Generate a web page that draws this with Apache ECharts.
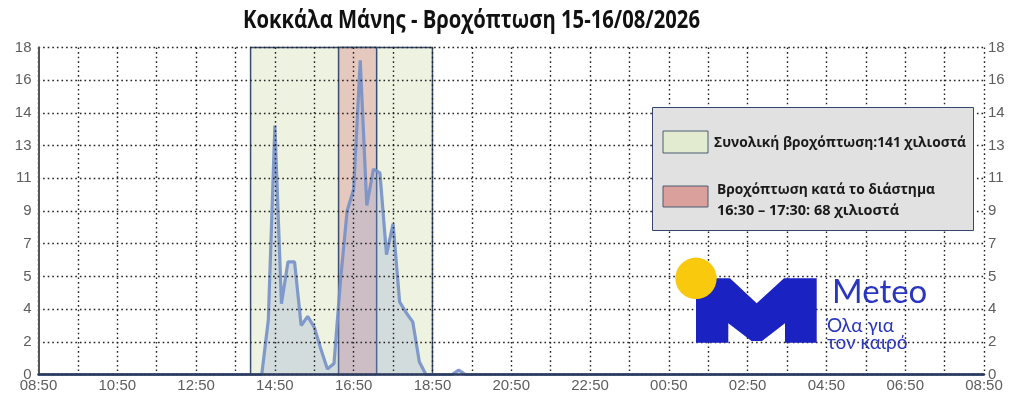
<!DOCTYPE html>
<html>
<head>
<meta charset="utf-8">
<script src="https://cdn.jsdelivr.net/npm/echarts@6/dist/echarts.min.js"></script>
<style>
  html, body { margin: 0; padding: 0; background: #fff; }
  #chart { width: 1024px; height: 409px; }
</style>
</head>
<body>
<div id="chart"></div>
<script>
// ώρες μετρήσεων (10λεπτα) και βροχή σε χιλιοστά
var times = ['08:50', '14:30', '14:40', '14:50', '15:00', '15:10', '15:20', '15:30', '15:40', '15:50',
             '16:00', '16:10', '16:20', '16:30', '16:40', '16:50', '17:00', '17:10', '17:20', '17:30',
             '17:40', '17:50', '18:00', '18:10', '18:20', '18:30', '18:40', '19:20', '19:30', '19:40', '08:50'];
var rain = [0, 0, 3.0, 13.7, 3.9, 6.2, 6.2, 2.7, 3.2, 2.6,
            1.4, 0.3, 0.6, 5.2, 9.0, 10.2, 17.3, 9.3, 11.3, 11.1,
            6.6, 8.3, 4.0, 3.4, 2.9, 0.7, 0, 0, 0.25, 0, 0];

// πλαίσια: συνολική βροχή και διάστημα 16:30-17:30
var totalSpan = ['14:13', '18:50'];
var peakSpan = ['16:27', '17:25'];

var startTime = '08:50';
var yMax = 18;
var yStep = 1.8;

var titleText = 'Κοκκάλα Μάνης - Βροχόπτωση 15-16/08/2026';
var legendTexts = ['Συνολική βροχόπτωση:141 χιλιοστά', 'Βροχόπτωση κατά το διάστημα', '16:30 – 17:30: 68 χιλιοστά'];

function toMin(t) {
  var p = t.split(':');
  return (+p[0]) * 60 + (+p[1]);
}
var start = toMin(startTime);

// λεπτά από την αρχή (με αλλαγή ημέρας)
function offsets(list) {
  var out = [], prev = -1;
  for (var i = 0; i < list.length; i++) {
    var m = toMin(list[i]) - start;
    if (m < 0) m += 1440;
    if (m < prev) m += 1440;
    out.push(m);
    prev = m;
  }
  return out;
}

var xs = offsets(times);
var seriesData = [];
for (var i = 0; i < xs.length; i++) {
  seriesData.push([xs[i], rain[i]]);
}
var total = offsets(totalSpan);
var peak = offsets(peakSpan);

function pad(n) { return n < 10 ? '0' + n : '' + n; }

// πλάτος κειμένου για να ταιριάξει
var ctx = document.createElement('canvas').getContext('2d');
function fitScale(text, font, width) {
  ctx.font = font;
  return width / ctx.measureText(text).width;
}

var titleFont = 'bold 25px "Open Sans"';
var legFont = 'bold 15px "Open Sans"';

var myChart = echarts.init(document.getElementById('chart'));

var gridDots = { color: '#222', width: 1.4, type: [1.6, 3] };
var labelFont = { color: '#5e5e5e', fontSize: 15, fontFamily: '"Liberation Sans", Arial, sans-serif' };

var option = {
  animation: false,
  grid: { left: 38.5, right: 40, top: 47.5, bottom: 34.5 },
  xAxis: {
    type: 'value',
    min: 0,
    max: 1440,
    interval: 60,
    z: 5,
    axisLine: { lineStyle: { color: '#2c3b5e', width: 2.5 } },
    axisTick: { show: false },
    axisLabel: {
      color: labelFont.color,
      fontSize: labelFont.fontSize,
      fontFamily: labelFont.fontFamily,
      margin: 4,
      showMinLabel: true,
      showMaxLabel: true,
      formatter: function (v) {
        if (v % 120 !== 0) return '';
        var m = (start + v) % 1440;
        return pad(Math.floor(m / 60)) + ':' + pad(m % 60);
      }
    },
    splitLine: { lineStyle: gridDots }
  },
  yAxis: [
    {
      type: 'value',
      min: 0,
      max: yMax,
      interval: yStep,
      z: 5,
      axisLine: { show: true, lineStyle: { color: '#555', width: 2 } },
      axisTick: { show: false },
      axisLabel: {
        color: labelFont.color, fontSize: labelFont.fontSize, fontFamily: labelFont.fontFamily, margin: 7,
        padding: [0, 0, 8, 0],
        formatter: function (v) { return Math.round(v); }
      },
      splitLine: { lineStyle: gridDots }
    },
    {
      type: 'value',
      position: 'right',
      min: 0,
      max: yMax,
      interval: yStep,
      axisLine: { show: false },
      axisTick: { show: false },
      axisLabel: {
        color: labelFont.color, fontSize: labelFont.fontSize, fontFamily: labelFont.fontFamily, margin: 4,
        padding: [0, 0, 8, 0],
        formatter: function (v) { return Math.round(v); }
      },
      splitLine: { show: false }
    }
  ],
  series: [
    {
      type: 'line',
      data: [[0, 0]],
      symbol: 'none',
      lineStyle: { opacity: 0 },
      z: 1,
      silent: true,
      markArea: {
        silent: true,
        label: { show: false },
        data: [
          [{ xAxis: total[0], itemStyle: { color: '#eef3e1', borderColor: '#3a4c72', borderWidth: 1.5 } }, { xAxis: total[1] }],
          [{ xAxis: peak[0], itemStyle: { color: '#e5c8be', borderColor: '#3a4c72', borderWidth: 1.5 } }, { xAxis: peak[1] }]
        ]
      }
    },
    {
      type: 'line',
      data: seriesData,
      symbol: 'none',
      z: 3,
      lineStyle: { color: '#7690c8', width: 3.2, opacity: 0.9 },
      areaStyle: { color: 'rgba(145,168,210,0.42)' }
    }
  ],
  graphic: [
    {
      type: 'text', x: 471.5, y: 21, z: 20,
      scaleX: fitScale(titleText, titleFont, 457),
      style: { text: titleText, font: titleFont, fill: '#111', align: 'center', verticalAlign: 'middle' }
    },
    // υπόμνημα
    { type: 'rect', z: 20, shape: { x: 652.5, y: 107.5, width: 321, height: 123 },
      style: { fill: '#e1e1e1', stroke: '#34466b', lineWidth: 1 } },
    { type: 'rect', z: 21, shape: { x: 663, y: 131, width: 45, height: 22 },
      style: { fill: '#e2ebcf', stroke: '#4a5c72', lineWidth: 1 } },
    { type: 'rect', z: 21, shape: { x: 663, y: 186, width: 45, height: 21 },
      style: { fill: '#d9a09c', stroke: '#4a5c72', lineWidth: 1 } },
    { type: 'text', x: 714, y: 143, z: 21,
      scaleX: fitScale(legendTexts[0], legFont, 252),
      style: { text: legendTexts[0], font: legFont, fill: '#1a1a1a', verticalAlign: 'middle' } },
    { type: 'text', x: 717, y: 190, z: 21,
      scaleX: fitScale(legendTexts[1], legFont, 218),
      style: { text: legendTexts[1], font: legFont, fill: '#1a1a1a', verticalAlign: 'middle' } },
    { type: 'text', x: 717, y: 211, z: 21,
      scaleX: fitScale(legendTexts[2], legFont, 182),
      style: { text: legendTexts[2], font: legFont, fill: '#1a1a1a', verticalAlign: 'middle' } },
    // λογότυπο
    { type: 'polygon', z: 20,
      shape: { points: [[696, 278.3], [730, 278.3], [756.7, 303.3], [784, 278.3], [816.7, 278.3], [816.7, 342.7],
                        [785, 342.7], [785, 323.3], [762, 341], [751.5, 341], [728.3, 323.3], [728.3, 342.7], [696, 342.7]] },
      style: { fill: '#1b22c2' } },
    { type: 'circle', z: 21, shape: { cx: 696, cy: 278.3, r: 20.7 }, style: { fill: '#f8c90c' } },
    { type: 'text', x: 832, y: 292, z: 21,
      style: { text: 'Meteo', font: '33px Lato', fill: '#2a35c0', verticalAlign: 'middle' } },
    { type: 'text', x: 827, y: 326, z: 21,
      style: { text: 'Όλα για', font: '19px Lato', fill: '#2a35c0', verticalAlign: 'middle' } },
    { type: 'text', x: 827, y: 343, z: 21,
      style: { text: 'τον καιρό', font: '19px Lato', fill: '#2a35c0', verticalAlign: 'middle' } }
  ]
};

myChart.setOption(option);

window.addEventListener('resize', function () {
  myChart.resize();
});
</script>
</body>
</html>
